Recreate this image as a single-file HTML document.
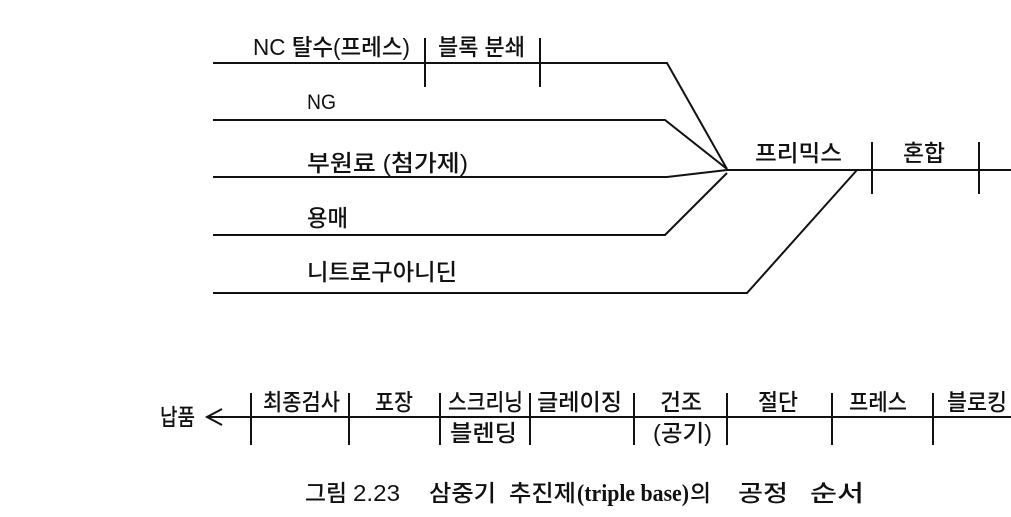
<!DOCTYPE html>
<html>
<head>
<meta charset="utf-8">
<style>
  html, body { margin: 0; padding: 0; background: #fff; }
  body { width: 1011px; height: 517px; overflow: hidden; }
  svg { display: block; }
  text { font-family: "Liberation Sans", "Noto Sans CJK KR", sans-serif; fill: #111; font-size: 23px; font-weight: 500; }
  .cap { font-size: 23px; font-weight: 500; }
  .serif { font-family: "Liberation Serif", "Noto Serif CJK SC", serif; font-size: 24px; font-weight: bold; }
</style>
</head>
<body>
<svg width="1011" height="517" viewBox="0 0 1011 517" xmlns="http://www.w3.org/2000/svg">
  <g stroke="#111" stroke-width="2" fill="none" stroke-linejoin="miter" stroke-linecap="butt">
    <!-- top convergence lines -->
    <polyline points="213,63 667,63 727,169"/>
    <polyline points="213,120 665,120 727,169"/>
    <polyline points="213,177 667,177 727,170"/>
    <polyline points="213,235 665,235 727,173"/>
    <polyline points="213,293 747,293 857,170"/>
    <line x1="726" y1="170" x2="1011" y2="170"/>
    <!-- top ticks -->
    <line x1="425" y1="38" x2="425" y2="87"/>
    <line x1="540" y1="38" x2="540" y2="87"/>
    <line x1="872" y1="142" x2="872" y2="194"/>
    <line x1="979" y1="142" x2="979" y2="194"/>

    <!-- bottom line -->
    <line x1="207" y1="417" x2="1011" y2="417"/>
    <polyline points="222,409 207,417 222,425"/>
    <line x1="251" y1="393" x2="251" y2="445"/>
    <line x1="349" y1="393" x2="349" y2="445"/>
    <line x1="440" y1="393" x2="440" y2="445"/>
    <line x1="530" y1="393" x2="530" y2="445"/>
    <line x1="634" y1="393" x2="634" y2="445"/>
    <line x1="727" y1="393" x2="727" y2="445"/>
    <line x1="832" y1="393" x2="832" y2="445"/>
    <line x1="933" y1="393" x2="933" y2="445"/>
  </g>

  <!-- top labels -->
  <text x="253" y="55" textLength="157" lengthAdjust="spacingAndGlyphs">NC 탈수(프레스)</text>
  <text x="438" y="55" textLength="87" lengthAdjust="spacingAndGlyphs">블록 분쇄</text>
  <text x="307" y="109" style="font-size:21px" textLength="29" lengthAdjust="spacingAndGlyphs">NG</text>
  <text x="307" y="171" textLength="161" lengthAdjust="spacingAndGlyphs">부원료 (첨가제)</text>
  <text x="307" y="226" textLength="41" lengthAdjust="spacingAndGlyphs">용매</text>
  <text x="307" y="280" textLength="150" lengthAdjust="spacingAndGlyphs">니트로구아니딘</text>
  <text x="755" y="161" textLength="87" lengthAdjust="spacingAndGlyphs">프리믹스</text>
  <text x="903" y="161" textLength="42" lengthAdjust="spacingAndGlyphs">혼합</text>

  <!-- bottom labels -->
  <text x="160" y="425" textLength="35" lengthAdjust="spacingAndGlyphs">납품</text>
  <text x="263" y="410" textLength="77" lengthAdjust="spacingAndGlyphs">최종검사</text>
  <text x="375" y="410" textLength="38" lengthAdjust="spacingAndGlyphs">포장</text>
  <text x="448" y="410" textLength="75" lengthAdjust="spacingAndGlyphs">스크리닝</text>
  <text x="450" y="441" textLength="67" lengthAdjust="spacingAndGlyphs">블렌딩</text>
  <text x="537" y="410" textLength="85" lengthAdjust="spacingAndGlyphs">글레이징</text>
  <text x="660" y="410" textLength="42" lengthAdjust="spacingAndGlyphs">건조</text>
  <text x="653" y="441" textLength="59" lengthAdjust="spacingAndGlyphs">(공기)</text>
  <text x="758" y="410" textLength="40" lengthAdjust="spacingAndGlyphs">절단</text>
  <text x="849" y="410" textLength="58" lengthAdjust="spacingAndGlyphs">프레스</text>
  <text x="947" y="410" textLength="60" lengthAdjust="spacingAndGlyphs">블로킹</text>

  <!-- caption -->
  <text class="cap" x="305" y="501" textLength="42" lengthAdjust="spacingAndGlyphs">그림</text>
  <text class="cap" x="353" y="501" textLength="47" lengthAdjust="spacingAndGlyphs">2.23</text>
  <text class="cap" x="429" y="501" textLength="67" lengthAdjust="spacingAndGlyphs">삼중기</text>
  <text class="cap" x="509" y="501" textLength="67" lengthAdjust="spacingAndGlyphs">추진제</text>
  <text class="serif" x="577" y="501" textLength="112" lengthAdjust="spacingAndGlyphs">(triple base)</text>
  <text class="cap" x="690" y="501" textLength="21" lengthAdjust="spacingAndGlyphs">의</text>
  <text class="cap" x="738" y="501" textLength="50" lengthAdjust="spacingAndGlyphs">공정</text>
  <text class="cap" x="810" y="501" textLength="54" lengthAdjust="spacingAndGlyphs">순서</text>
</svg>
</body>
</html>
